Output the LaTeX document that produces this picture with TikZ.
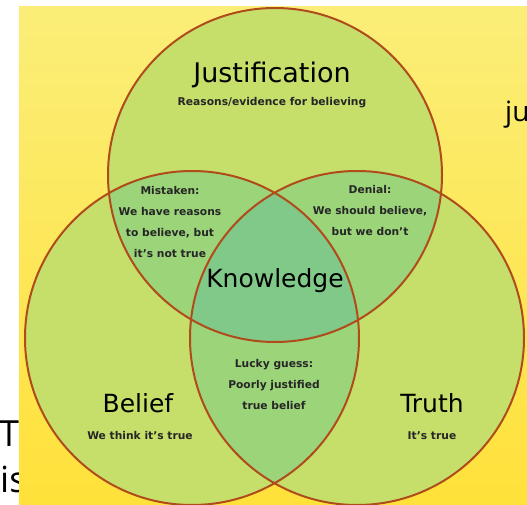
\documentclass[tikz,border=0pt]{standalone}
\usepackage{fontspec}
\setmainfont{DejaVu Sans}
\newfontfamily\slidefont{Open Sans}
\usetikzlibrary{positioning}
\definecolor{bgtop}{HTML}{FBEE78}
\definecolor{bgbot}{HTML}{FFE13A}
\definecolor{one}{HTML}{C6DE6A}
\definecolor{two}{HTML}{9CD47A}
\definecolor{three}{HTML}{80C988}
\definecolor{ring}{HTML}{B04C1C}
\tikzset{
  venn/.style={draw=ring, line width=2pt},
  big/.style={font=\fontsize{25}{27}\selectfont},
  note/.style={font=\bfseries\fontsize{10.7}{21}\selectfont, align=center, text=black!85},
  slide/.style={font=\slidefont\fontsize{36}{40}\selectfont, inner sep=0pt}
}
\begin{document}
\begin{tikzpicture}[x=1pt,y=1pt]
\useasboundingbox (0,0) rectangle (527,504);
\fill[white] (0,0) rectangle (527,504);
\node[slide, anchor=base west] (t) at (-1,58) {T};
\node[slide, anchor=base west] (is) at (0,12) {is};
\shade[top color=bgtop, bottom color=bgbot] (19,0) rectangle (527,497);
\node[slide, font=\slidefont\fontsize{28}{30}\selectfont, anchor=base west] (ju) at (505,382) {ju};
\coordinate (J) at (275,329);
\coordinate (B) at (192,166);
\coordinate (T) at (357,166);
\fill[one] (J) circle (167) (B) circle (167) (T) circle (167);
\begin{scope}
  \clip (J) circle (167);
  \fill[two] (B) circle (167) (T) circle (167);
\end{scope}
\begin{scope}
  \clip (B) circle (167);
  \fill[two] (T) circle (167);
\end{scope}
\begin{scope}
  \clip (J) circle (167);
  \clip (B) circle (167);
  \fill[three] (T) circle (167);
\end{scope}
\draw[venn] (J) circle (167) (B) circle (167) (T) circle (167);
\node[big, font=\fontsize{27}{29}\selectfont] (just) at (272,429) {Justification};
\node[note, below=2pt of just] (reasons) {Reasons/evidence for believing};
\node[note] (mistaken) at (170,282) {Mistaken:\\We have reasons\\to believe, but\\it's not true};
\node[note] (denial) at (370,293) {Denial:\\We should believe,\\but we don't};
\node[big, anchor=base] (know) at (275,217) {Knowledge};
\node[note] (lucky) at (274,119) {Lucky guess:\\Poorly justified\\true belief};
\node[big] (belief) at (138,101) {Belief};
\node[note] (think) at (140,68) {We think it's true};
\node[big] (truth) at (432,101) {Truth};
\node[note] (true) at (432,68) {It's true};
\end{tikzpicture}
\end{document}
